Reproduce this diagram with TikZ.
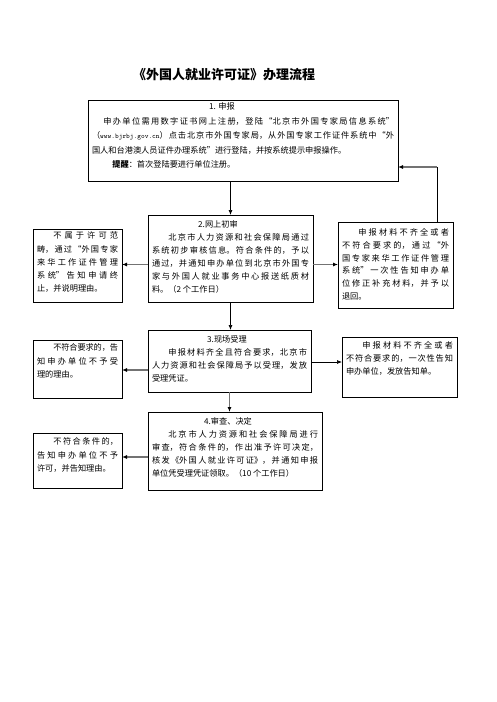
\documentclass[tikz,border=0pt]{standalone}
\usepackage{fontspec}
\setmainfont{Noto Sans CJK SC}
\usetikzlibrary{arrows.meta}
\XeTeXlinebreaklocale "zh"
\XeTeXlinebreakskip=0pt plus 3pt minus 0.4pt
\XeTeXlinebreakpenalty=10000
\newcommand{\bt}[5]{\parbox[t][#2][t]{#1}{\fontsize{8.2pt}{#4}\selectfont\setlength{\parindent}{2em}\hbadness=10000 \tolerance=10000 \vspace*{#3}#5}}
\newcommand{\hdr}[2]{\noindent\hbox to\linewidth{\hss #2\hss\hspace{#1}}\par}
\tikzset{
  box/.style={draw, line width=0.8pt, inner xsep=4pt, inner ysep=3pt, anchor=north west, outer sep=0pt},
  tip/.style={-{Latex[length=5pt,width=4pt,color=black]}},
  conn/.style={draw=black, line width=0.7pt},
  gconn/.style={draw=black!55, line width=1.1pt},
}
\begin{document}
\begin{tikzpicture}[x=1pt,y=-1pt]
\useasboundingbox (0,0) rectangle (496,702);
\node[font=\fontsize{13pt}{15pt}\selectfont\bfseries] (title) at (224,75) {《外国人就业许可证》办理流程};
% box 1
\node[box, minimum width=310pt, minimum height=81pt] (b1) at (88,100)
{\bt{302pt}{75pt}{0pt}{14.5pt}{\hdr{42pt}{1. 申报}\hspace*{-5pt}申办单位需用数字证书网上注册，登陆“北京市外国专家局信息系统”\linebreak%
（{\fontsize{7pt}{8pt}\ttfamily www.bjrbj.gov.cn}）点击北京市外国专家局，从外国专家工作证件系统中“外\linebreak%
国人和台港澳人员证件办理系统”进行登陆，并按系统提示申报操作。\par
\hspace*{4pt}\textbf{提醒}：首次登陆要进行单位注册。}};
% box 2
\node[box, minimum width=165pt, minimum height=87pt] (b2) at (148,215)
{\bt{157pt}{81pt}{3pt}{13pt}{\hdr{25pt}{2.网上初审}北京市人力资源和社会保障局通过\linebreak%
系统初步审核信息。符合条件的，予以\linebreak%
通过，并通知申办单位到北京市外国专\linebreak%
家与外国人就业事务中心报送纸质材\linebreak%
料。（2 个工作日）}};
% left 1
\node[box, minimum width=89pt, minimum height=73pt] (l1) at (33,229)
{\bt{81pt}{67pt}{0pt}{13.2pt}{不属于许可范\linebreak%
畴，通过“外国专家\linebreak%
来华工作证件管理\linebreak%
系统”告知申请终\linebreak%
止，并说明理由。}};
% right 1
\node[box, minimum width=115pt, minimum height=86pt] (r1) at (338,222)
{\bt{107pt}{80pt}{3.5pt}{12.8pt}{申报材料不齐全或者\linebreak%
不符合要求的，通过“外\linebreak%
国专家来华工作证件管理\linebreak%
系统”一次性告知申办单\linebreak%
位修正补充材料，并予以\linebreak%
退回。}};
% box 3
\node[box, minimum width=163pt, minimum height=62pt] (b3) at (148,330)
{\bt{155pt}{56pt}{3pt}{12.7pt}{\hdr{5pt}{3.现场受理}申报材料齐全且符合要求，北京市\linebreak%
人力资源和社会保障局予以受理，发放\linebreak%
受理凭证。}};
% left 2
\node[box, minimum width=89pt, minimum height=58pt] (l2) at (33,340)
{\bt{81pt}{52pt}{1pt}{13.5pt}{不符合要求的，告\linebreak%
知申办单位不予受\linebreak%
理的理由。}};
% right 2
\node[box, minimum width=115pt, minimum height=60pt] (r2) at (342,337)
{\bt{107pt}{54pt}{2pt}{13pt}{申报材料不齐全或者\linebreak%
不符合要求的，一次性告知\linebreak%
申办单位，发放告知单。}};
% box 4
\node[box, minimum width=174pt, minimum height=78pt] (b4) at (148,412)
{\bt{166pt}{72pt}{3pt}{12.8pt}{\hdr{14pt}{4.审查、决定}北京市人力资源和社会保障局进行\linebreak%
审查，符合条件的，作出准予许可决定，\linebreak%
核发《外国人就业许可证》，并通知申报\linebreak%
单位凭受理凭证领取。（10 个工作日）}};
% left 3
\node[box, minimum width=89pt, minimum height=55pt] (l3) at (33,433)
{\bt{81pt}{49pt}{2pt}{13.5pt}{不符合条件的，\linebreak%
告知申办单位不予\linebreak%
许可，并告知理由。}};
% connectors
\draw[conn,tip] (b1.south -| b2.north) -- (b2.north);
\coordinate (b2l) at ([yshift=-6pt]b2.west);
\coordinate (b2r) at ([yshift=-6pt]b2.east);
\draw[gconn,tip] (b2l) -- (b2l -| l1.east);
\draw[gconn,tip] (b2r) -- (b2r -| r1.west);
\coordinate (r1t) at ([xshift=-16pt]r1.north east);
\coordinate (b1r) at ([yshift=-26.5pt]b1.east);
\coordinate (rc) at (r1t |- b1r);
\draw[conn] (r1t) -- (rc);
\draw[gconn,tip] (rc) -- (b1r);
\draw[conn,tip] (b2.south) -- (b2.south |- b3.north);
\coordinate (b3l) at ([yshift=-9pt]b3.west);
\coordinate (b3r) at ([yshift=-1pt]b3.east);
\draw[gconn,tip] (b3l) -- (b3l -| l2.east);
\draw[conn,tip] (b3r) -- (b3r -| r2.west);
\draw[gconn,tip] (b3.south) -- (b3.south |- b4.north);
\coordinate (b4l) at ([yshift=-6pt]b4.west);
\draw[gconn,tip] (b4l) -- (b4l -| l3.east);
\end{tikzpicture}
\end{document}
